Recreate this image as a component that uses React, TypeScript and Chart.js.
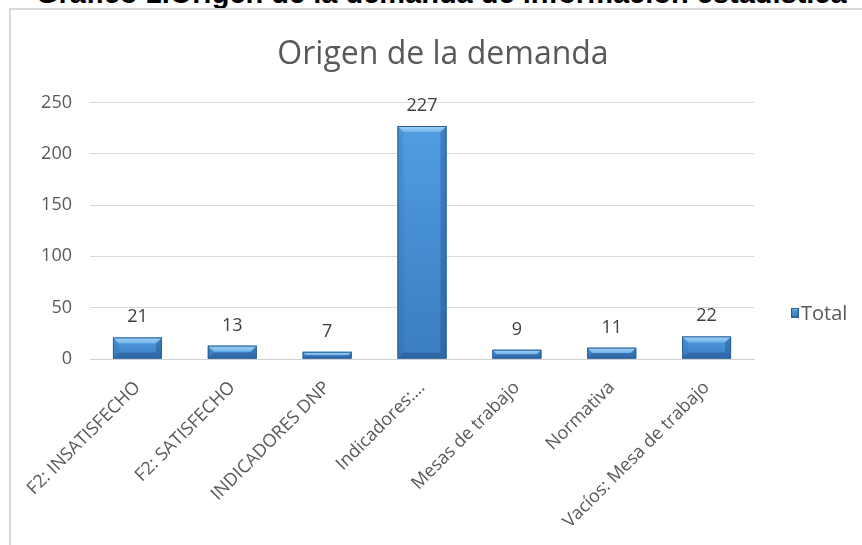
import { useEffect, useRef } from 'react';
import { Chart, registerables } from 'chart.js';

Chart.register(...registerables);

// ---- data ----
const docTitle = 'Gráfico 1.Origen de la demanda de información estadística';
const chartTitle = 'Origen de la demanda';
const seriesName = 'Total';
const categories = [
  'F2: INSATISFECHO',
  'F2: SATISFECHO',
  'INDICADORES DNP',
  'Indicadores:…',
  'Mesas de trabajo',
  'Normativa',
  'Vacíos: Mesa de trabajo',
];
const totals = [21, 13, 7, 227, 9, 11, 22];
const yTicks = [0, 50, 100, 150, 200, 250];

const FONT = '"Open Sans", "DejaVu Sans", sans-serif';
const TEXT = '#595959';

function bevelRect(ctx: CanvasRenderingContext2D, l: number, t: number, r: number, b: number, maxBevel: number) {
  const h = b - t;
  const w = r - l;
  if (h <= 0 || w <= 0) return;
  const g = ctx.createLinearGradient(0, t, 0, b);
  g.addColorStop(0, '#519de2');
  g.addColorStop(1, '#3a7dc2');
  ctx.fillStyle = g;
  ctx.fillRect(l, t, w, h);
  const bv = Math.min(maxBevel, h / 2, w / 2);
  const poly = (pts: number[][], fill: string | CanvasGradient) => {
    ctx.beginPath();
    ctx.moveTo(pts[0][0], pts[0][1]);
    for (let i = 1; i < pts.length; i++) ctx.lineTo(pts[i][0], pts[i][1]);
    ctx.closePath();
    ctx.fillStyle = fill;
    ctx.fill();
  };
  const tg = ctx.createLinearGradient(0, t, 0, t + bv);
  tg.addColorStop(0, '#a6d5f7');
  tg.addColorStop(1, '#6fb2ea');
  poly([[l, t], [r, t], [r - bv, t + bv], [l + bv, t + bv]], tg);
  poly([[l, t], [l + bv, t + bv], [l + bv, b - bv], [l, b]], 'rgba(20,60,110,0.10)');
  poly([[r, t], [r, b], [r - bv, b - bv], [r - bv, t + bv]], 'rgba(15,45,90,0.25)');
  poly([[l, b], [l + bv, b - bv], [r - bv, b - bv], [r, b]], 'rgba(15,45,90,0.28)');
  ctx.strokeStyle = '#2c5f96';
  ctx.lineWidth = 1;
  ctx.strokeRect(l + 0.5, t + 0.5, w - 1, h - 1);
}

const barStylePlugin = {
  id: 'barStyle',
  afterDatasetsDraw(chart: any) {
    const ctx: CanvasRenderingContext2D = chart.ctx;
    const meta = chart.getDatasetMeta(0);
    const values = chart.data.datasets[0].data as number[];
    ctx.save();
    meta.data.forEach((el: any, i: number) => {
      const p = el.getProps(['x', 'y', 'base', 'width'], true);
      const l = p.x - p.width / 2;
      const r = p.x + p.width / 2;
      const t = Math.min(p.y, p.base);
      const b = Math.max(p.y, p.base);
      bevelRect(ctx, l, t, r, b, 6);
      ctx.fillStyle = '#404040';
      ctx.font = `18px ${FONT}`;
      ctx.textAlign = 'center';
      ctx.textBaseline = 'alphabetic';
      ctx.fillText(String(values[i]), p.x, t - 15);
    });
    ctx.restore();
  },
  afterDraw(chart: any) {
    const ctx: CanvasRenderingContext2D = chart.ctx;
    const area = chart.chartArea;
    const bx = area.right + 37;
    const cy = area.bottom - 46;
    ctx.save();
    bevelRect(ctx, bx, cy - 5, bx + 8, cy + 5, 2);
    ctx.fillStyle = TEXT;
    ctx.font = `20px ${FONT}`;
    ctx.textAlign = 'left';
    ctx.textBaseline = 'middle';
    ctx.fillText(seriesName, bx + 10, cy + 1);
    ctx.restore();
  },
};

export default function App() {
  const ref = useRef<HTMLCanvasElement>(null);

  useEffect(() => {
    const chart = new Chart(ref.current as HTMLCanvasElement, {
      type: 'bar',
      data: {
        labels: categories,
        datasets: [
          {
            label: seriesName,
            data: totals,
            yAxisID: 'y',
            backgroundColor: '#3d8ad3',
            borderWidth: 0,
            barPercentage: 0.516,
            categoryPercentage: 1,
          },
        ],
      },
      options: {
        responsive: false,
        animation: false,
        devicePixelRatio: 1,
        layout: { padding: { left: 0, right: 0, top: 0, bottom: 20 } },
        plugins: {
          title: {
            display: true,
            text: chartTitle,
            color: TEXT,
            font: { family: FONT, size: 32, weight: 'normal', lineHeight: 1.2 },
            padding: { top: 25, bottom: 28 },
          },
          legend: { display: false },
          tooltip: { enabled: false },
        },
        scales: {
          x: {
            grid: { display: false },
            border: { display: true, color: '#d0d0d0', width: 1 },
            ticks: {
              autoSkip: false,
              minRotation: 45,
              maxRotation: 45,
              padding: 10,
              color: TEXT,
              font: { family: FONT, size: 18 },
            },
            afterFit: (s: any) => {
              s.height = 166;
              s.paddingLeft = 0;
              s.paddingRight = 0;
            },
          },
          y: {
            position: 'left',
            min: yTicks[0],
            max: yTicks[yTicks.length - 1],
            ticks: {
              stepSize: yTicks[1] - yTicks[0],
              padding: 18,
              color: TEXT,
              font: { family: FONT, size: 18 },
            },
            grid: { color: '#d9d9d9', drawTicks: false },
            border: { display: false },
            afterFit: (s: any) => {
              s.width = 78;
              s.paddingTop = 0;
              s.paddingBottom = 0;
            },
          },
          legendSpace: {
            type: 'linear',
            position: 'right',
            display: true,
            grid: { display: false, drawTicks: false },
            border: { display: false },
            ticks: { display: false },
            afterFit: (s: any) => {
              s.width = 120;
            },
          },
        },
      },
      plugins: [barStylePlugin],
    } as any);
    return () => chart.destroy();
  }, []);

  return (
    <div
      style={{
        position: 'fixed',
        left: 0,
        top: 0,
        width: 862,
        height: 545,
        overflow: 'hidden',
        background: '#fff',
      }}
    >
      <div
        style={{
          position: 'absolute',
          left: 36,
          top: -21,
          font: 'bold 29px "Liberation Sans", Arial, sans-serif',
          lineHeight: '29px',
          color: '#000',
          whiteSpace: 'nowrap',
        }}
      >
        {docTitle}
      </div>
      <div
        style={{
          position: 'absolute',
          left: 9,
          top: 8,
          width: 900,
          height: 600,
          borderLeft: '2px solid #d9d9d9',
          borderTop: '2px solid #d9d9d9',
        }}
      />
      <canvas
        ref={ref}
        width={862}
        height={534}
        style={{ position: 'absolute', left: 12, top: 11, width: 862, height: 534 }}
      />
    </div>
  );
}
